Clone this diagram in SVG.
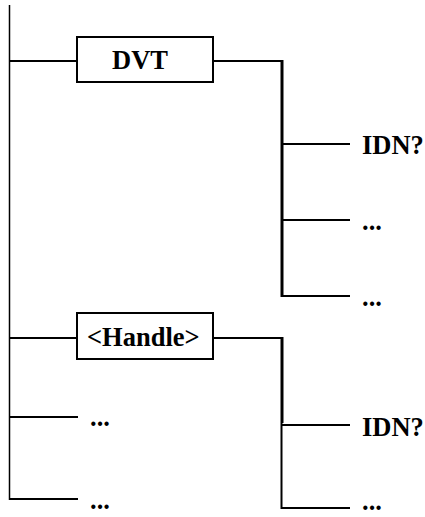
<svg xmlns="http://www.w3.org/2000/svg" width="425" height="517" viewBox="0 0 425 517">
<style>
.box{fill:#fff;stroke:#000;stroke-width:2}
.ln{fill:none;stroke:#000;stroke-width:2}
.thk{fill:none;stroke:#000;stroke-width:3}
.thin{fill:none;stroke:#000;stroke-width:1.5}
text{font-family:"Liberation Serif","Times New Roman",serif;font-weight:bold;font-size:26.5px;fill:#000}
</style>
<rect width="425" height="517" fill="#fff"/>
<g id="connectors">
<line class="thin" x1="9.5" y1="5" x2="9.5" y2="500"/>
<line class="ln" x1="9" y1="61" x2="77" y2="61"/>
<polyline class="ln" points="213,61 282,61"/>
<line class="thk" x1="282" y1="60" x2="282" y2="297"/>
<line class="ln" x1="282" y1="144" x2="350" y2="144"/>
<line class="ln" x1="282" y1="220" x2="350" y2="220"/>
<line class="ln" x1="282" y1="296" x2="350" y2="296"/>
<line class="ln" x1="9" y1="338" x2="77" y2="338"/>
<line class="ln" x1="213" y1="338" x2="282" y2="338"/>
<line class="thk" x1="282" y1="337" x2="282" y2="423"/>
<line class="ln" x1="281.5" y1="423" x2="281.5" y2="509"/>
<line class="ln" x1="281" y1="425" x2="350" y2="425"/>
<line class="ln" x1="281" y1="508" x2="350" y2="508"/>
<line class="ln" x1="9" y1="417" x2="78" y2="417"/>
<line class="ln" x1="9" y1="499" x2="78" y2="499"/>
</g>
<g id="node-dvt">
<rect class="box" x="77" y="37" width="136" height="45"/>
<text x="112" y="69">DVT</text>
</g>
<g id="node-handle">
<rect class="box" x="77" y="313" width="136" height="46"/>
<text x="87" y="346">&lt;Handle&gt;</text>
</g>
<g id="node-idn1"><text x="362" y="154">IDN?</text></g>
<g id="node-dots1"><text x="362" y="230">...</text></g>
<g id="node-dots2"><text x="362" y="306">...</text></g>
<g id="node-idn2"><text x="362" y="436">IDN?</text></g>
<g id="node-dots3"><text x="362" y="510">...</text></g>
<g id="node-dots4"><text x="90" y="426">...</text></g>
<g id="node-dots5"><text x="90" y="509">...</text></g>
</svg>
